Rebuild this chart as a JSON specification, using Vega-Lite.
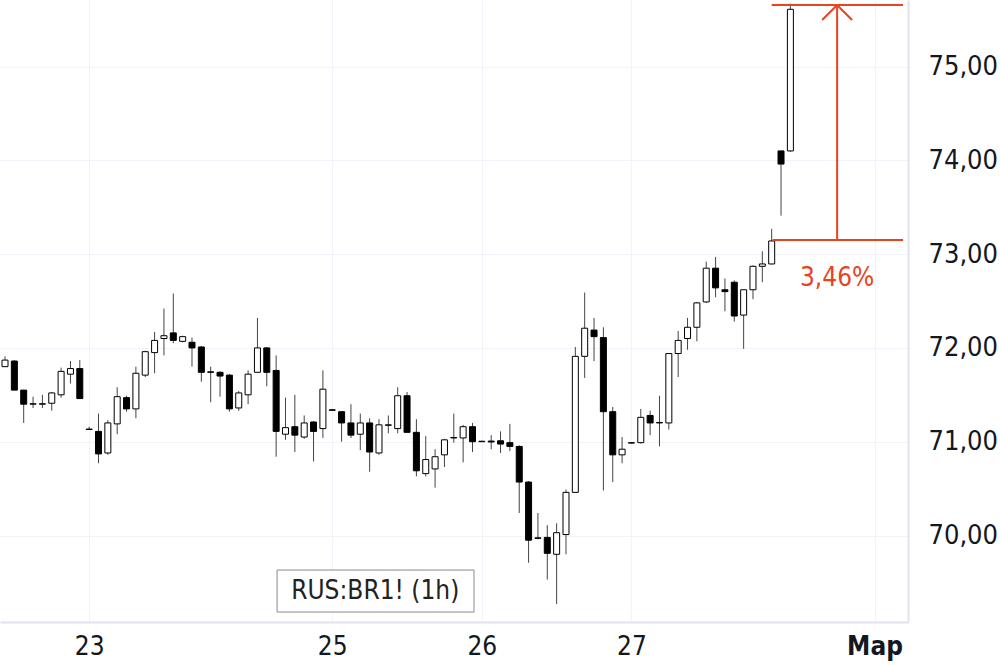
{
  "$schema": "https://vega.github.io/schema/vega-lite/v6.json",
  "width": 908,
  "height": 622,
  "autosize": {"type": "none"},
  "padding": {"left": 0, "top": 0, "right": 92, "bottom": 43},
  "background": "#ffffff",
  "config": {"view": {"stroke": null}, "font": "DejaVu Sans Condensed"},
  "datasets": {
    "candles": [
      {"i":0,"o":71.80,"h":71.91,"l":71.80,"c":71.87},
      {"i":1,"o":71.86,"h":71.87,"l":71.55,"c":71.55},
      {"i":2,"o":71.55,"h":71.55,"l":71.20,"c":71.40},
      {"i":3,"o":71.40,"h":71.48,"l":71.36,"c":71.405},
      {"i":4,"o":71.40,"h":71.50,"l":71.36,"c":71.405},
      {"i":5,"o":71.41,"h":71.53,"l":71.33,"c":71.52},
      {"i":6,"o":71.50,"h":71.79,"l":71.47,"c":71.75},
      {"i":7,"o":71.72,"h":71.86,"l":71.62,"c":71.78},
      {"i":8,"o":71.78,"h":71.87,"l":71.46,"c":71.46},
      {"i":9,"o":71.13,"h":71.16,"l":71.13,"c":71.135},
      {"i":10,"o":71.11,"h":71.30,"l":70.77,"c":70.87},
      {"i":11,"o":70.88,"h":71.23,"l":70.86,"c":71.20},
      {"i":12,"o":71.19,"h":71.58,"l":71.08,"c":71.48},
      {"i":13,"o":71.47,"h":71.49,"l":71.32,"c":71.35},
      {"i":14,"o":71.35,"h":71.80,"l":71.25,"c":71.73},
      {"i":15,"o":71.71,"h":71.97,"l":71.69,"c":71.96},
      {"i":16,"o":71.95,"h":72.17,"l":71.73,"c":72.08},
      {"i":17,"o":72.10,"h":72.42,"l":71.92,"c":72.13},
      {"i":18,"o":72.16,"h":72.58,"l":72.05,"c":72.08},
      {"i":19,"o":72.07,"h":72.13,"l":72.06,"c":72.12},
      {"i":20,"o":72.06,"h":72.11,"l":71.80,"c":72.00},
      {"i":21,"o":72.01,"h":72.02,"l":71.64,"c":71.74},
      {"i":22,"o":71.745,"h":71.80,"l":71.42,"c":71.74},
      {"i":23,"o":71.74,"h":71.75,"l":71.48,"c":71.70},
      {"i":24,"o":71.71,"h":71.72,"l":71.32,"c":71.35},
      {"i":25,"o":71.36,"h":71.54,"l":71.33,"c":71.52},
      {"i":26,"o":71.50,"h":71.76,"l":71.40,"c":71.72},
      {"i":27,"o":71.74,"h":72.32,"l":71.74,"c":72.00},
      {"i":28,"o":72.00,"h":72.01,"l":71.59,"c":71.74},
      {"i":29,"o":71.76,"h":71.92,"l":70.84,"c":71.11},
      {"i":30,"o":71.08,"h":71.47,"l":71.02,"c":71.15},
      {"i":31,"o":71.16,"h":71.50,"l":70.89,"c":71.07},
      {"i":32,"o":71.05,"h":71.28,"l":71.03,"c":71.20},
      {"i":33,"o":71.21,"h":71.22,"l":70.79,"c":71.11},
      {"i":34,"o":71.14,"h":71.76,"l":71.04,"c":71.56},
      {"i":35,"o":71.34,"h":71.35,"l":71.33,"c":71.335},
      {"i":36,"o":71.32,"h":71.32,"l":71.00,"c":71.20},
      {"i":37,"o":71.20,"h":71.40,"l":71.04,"c":71.07},
      {"i":38,"o":71.08,"h":71.30,"l":70.91,"c":71.20},
      {"i":39,"o":71.20,"h":71.25,"l":70.68,"c":70.89},
      {"i":40,"o":70.88,"h":71.24,"l":70.86,"c":71.18},
      {"i":41,"o":71.175,"h":71.28,"l":71.09,"c":71.18},
      {"i":42,"o":71.14,"h":71.58,"l":71.09,"c":71.49},
      {"i":43,"o":71.49,"h":71.53,"l":71.10,"c":71.10},
      {"i":44,"o":71.10,"h":71.24,"l":70.63,"c":70.69},
      {"i":45,"o":70.66,"h":71.06,"l":70.63,"c":70.81},
      {"i":46,"o":70.71,"h":70.92,"l":70.51,"c":70.84},
      {"i":47,"o":70.86,"h":71.03,"l":70.73,"c":71.02},
      {"i":48,"o":71.04,"h":71.30,"l":70.99,"c":71.045},
      {"i":49,"o":71.04,"h":71.18,"l":70.78,"c":71.16},
      {"i":50,"o":71.16,"h":71.20,"l":70.89,"c":71.00},
      {"i":51,"o":71.00,"h":71.01,"l":71.00,"c":71.005},
      {"i":52,"o":71.007,"h":71.07,"l":70.92,"c":70.997},
      {"i":53,"o":71.01,"h":71.11,"l":70.88,"c":70.975},
      {"i":54,"o":70.99,"h":71.19,"l":70.90,"c":70.95},
      {"i":55,"o":70.95,"h":70.96,"l":70.24,"c":70.57},
      {"i":56,"o":70.57,"h":70.58,"l":69.71,"c":69.95},
      {"i":57,"o":69.975,"h":70.24,"l":69.96,"c":69.97},
      {"i":58,"o":69.98,"h":70.11,"l":69.53,"c":69.81},
      {"i":59,"o":69.80,"h":70.13,"l":69.27,"c":70.03},
      {"i":60,"o":70.01,"h":70.49,"l":69.80,"c":70.46},
      {"i":61,"o":70.46,"h":72.01,"l":70.46,"c":71.91},
      {"i":62,"o":71.91,"h":72.59,"l":71.68,"c":72.21},
      {"i":63,"o":72.19,"h":72.32,"l":71.86,"c":72.12},
      {"i":64,"o":72.11,"h":72.22,"l":70.48,"c":71.32},
      {"i":65,"o":71.32,"h":71.37,"l":70.57,"c":70.86},
      {"i":66,"o":70.86,"h":71.05,"l":70.77,"c":70.92},
      {"i":67,"o":70.985,"h":70.99,"l":70.98,"c":70.99},
      {"i":68,"o":70.99,"h":71.35,"l":70.98,"c":71.26},
      {"i":69,"o":71.28,"h":71.33,"l":71.07,"c":71.20},
      {"i":70,"o":71.20,"h":71.49,"l":70.95,"c":71.205},
      {"i":71,"o":71.20,"h":71.94,"l":71.13,"c":71.94},
      {"i":72,"o":71.94,"h":72.18,"l":71.69,"c":72.08},
      {"i":73,"o":72.10,"h":72.32,"l":71.98,"c":72.22},
      {"i":74,"o":72.22,"h":72.49,"l":72.07,"c":72.48},
      {"i":75,"o":72.49,"h":72.92,"l":72.48,"c":72.85},
      {"i":76,"o":72.85,"h":72.97,"l":72.54,"c":72.64},
      {"i":77,"o":72.62,"h":72.74,"l":72.39,"c":72.60},
      {"i":78,"o":72.70,"h":72.72,"l":72.28,"c":72.34},
      {"i":79,"o":72.35,"h":72.62,"l":71.99,"c":72.62},
      {"i":80,"o":72.62,"h":72.88,"l":72.52,"c":72.87},
      {"i":81,"o":72.87,"h":73.03,"l":72.70,"c":72.895},
      {"i":82,"o":72.895,"h":73.27,"l":72.89,"c":73.14},
      {"i":83,"o":74.10,"h":74.10,"l":73.41,"c":73.96},
      {"i":84,"o":74.10,"h":75.67,"l":74.09,"c":75.61}
    ],
    "measure": [
      {"x1":82,"x2":96.05,"y1":75.656,"y2":75.656},
      {"x1":82.1,"x2":96.05,"y1":73.15,"y2":73.15},
      {"x1":89,"x2":89,"y1":73.15,"y2":75.656},
      {"x1":87.4,"x2":89,"y1":75.496,"y2":75.656},
      {"x1":89,"x2":90.6,"y1":75.656,"y2":75.496}
    ],
    "measureLabel": [{"x":89,"y":72.75,"t":"3,46%"}],
    "box": [{"x1":29.1,"x2":50.16,"y1":69.184,"y2":69.632,"xc":39.6,"yc":69.41,"t":"RUS:BR1! (1h)"}]
  },
  "data": {"name": "candles"},
  "layer": [
    {
      "mark": {"type": "rule", "color": "#444444", "strokeWidth": 1},
      "encoding": {
        "x": {"field": "i", "type": "quantitative",
          "scale": {"domain": [-0.535, 96.58], "nice": false, "zero": false, "padding": 0},
          "axis": {
            "orient": "bottom", "title": null,
            "values": [9, 35, 51, 67, 93],
            "labelExpr": "datum.value == 9 ? '23' : datum.value == 35 ? '25' : datum.value == 51 ? '26' : datum.value == 67 ? '27' : 'Мар'",
            "labelFontSize": 26, "labelColor": "#131722",
            "labelFontWeight": {"condition": {"test": "datum.value > 90", "value": "bold"}, "value": "normal"},
            "labelPadding": 11, "ticks": false,
            "domain": true, "domainColor": "#e0e3eb", "domainWidth": 2,
            "grid": true, "gridColor": "#f0f3fa", "gridWidth": 1,
            "labelFlush": false, "labelOverlap": false
          }},
        "y": {"field": "l", "type": "quantitative",
          "scale": {"domain": [69.078, 75.709], "nice": false, "zero": false, "padding": 0},
          "axis": {
            "orient": "right", "title": null,
            "values": [70, 71, 72, 73, 74, 75],
            "labelExpr": "replace(format(datum.value, '.2f'), '.', ',')",
            "labelFontSize": 27, "labelColor": "#131722",
            "labelPadding": 20, "ticks": false, "labelAlign": "left", "labelBaseline": "middle",
            "domain": true, "domainColor": "#e0e3eb", "domainWidth": 2,
            "grid": true, "gridColor": "#f0f3fa", "gridWidth": 1
          }},
        "y2": {"field": "h"}
      }
    },
    {
      "mark": {"type": "bar", "size": 6, "stroke": "#000000", "strokeWidth": 1},
      "encoding": {
        "x": {"field": "i", "type": "quantitative"},
        "y": {"field": "o", "type": "quantitative"},
        "y2": {"field": "c"},
        "fill": {"condition": {"test": "datum.c >= datum.o", "value": "#ffffff"}, "value": "#000000"}
      }
    },
    {
      "data": {"name": "measure"},
      "mark": {"type": "rule", "color": "#e8431f", "strokeWidth": 2},
      "encoding": {
        "x": {"field": "x1", "type": "quantitative"},
        "x2": {"field": "x2"},
        "y": {"field": "y1", "type": "quantitative"},
        "y2": {"field": "y2"}
      }
    },
    {
      "data": {"name": "measureLabel"},
      "mark": {"type": "text", "color": "#e8431f", "fontSize": 26, "align": "center", "baseline": "middle"},
      "encoding": {
        "x": {"field": "x", "type": "quantitative"},
        "y": {"field": "y", "type": "quantitative"},
        "text": {"field": "t"}
      }
    },
    {
      "data": {"name": "box"},
      "mark": {"type": "rect", "fill": "#ffffff", "stroke": "#8a8a8a", "strokeWidth": 1},
      "encoding": {
        "x": {"field": "x1", "type": "quantitative"},
        "x2": {"field": "x2"},
        "y": {"field": "y1", "type": "quantitative"},
        "y2": {"field": "y2"}
      }
    },
    {
      "data": {"name": "box"},
      "mark": {"type": "text", "color": "#222222", "fontSize": 26, "align": "center", "baseline": "middle"},
      "encoding": {
        "x": {"field": "xc", "type": "quantitative"},
        "y": {"field": "yc", "type": "quantitative"},
        "text": {"field": "t"}
      }
    }
  ]
}
